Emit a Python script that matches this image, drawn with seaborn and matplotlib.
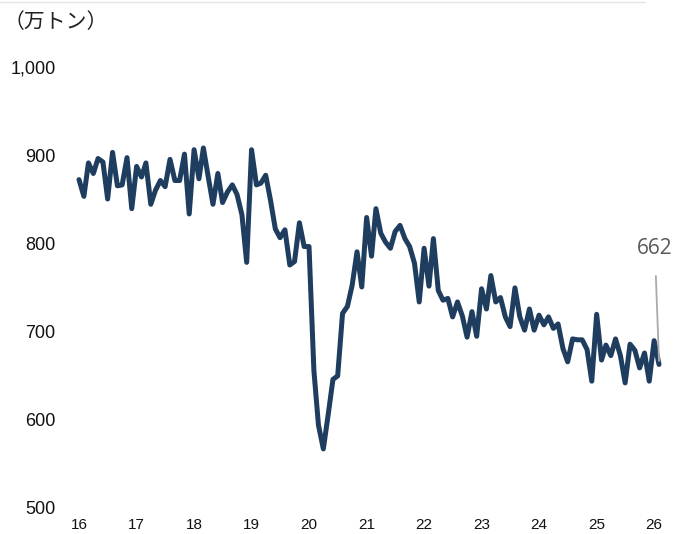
import pandas as pd
import matplotlib
matplotlib.use('Agg')
import matplotlib.pyplot as plt
from matplotlib.lines import Line2D
import seaborn as sns

# monthly values, Jan 2016 .. Feb 2026 (万トン)
start_month = "2016-01"
values = [
    872, 853, 891, 879, 896, 892, 850, 903, 865, 866, 897, 839,
    887, 875, 891, 844, 860, 871, 864, 895, 871, 871, 901, 833,
    906, 873, 908, 875, 844, 879, 846, 858, 866, 855, 832, 778,
    906, 866, 868, 877, 849, 816, 806, 815, 775, 779, 823, 796,
    796, 655, 593, 566, 604, 645, 649, 720, 728, 752, 790, 750,
    829, 785, 839, 811, 801, 794, 813, 820, 805, 796, 777, 733,
    794, 751, 805, 746, 735, 737, 716, 733, 717, 693, 722, 694,
    748, 725, 763, 733, 738, 716, 705, 749, 716, 701, 725, 701,
    718, 707, 716, 703, 708, 680, 665, 691, 690, 690, 679, 643,
    719, 667, 684, 672, 691, 672, 641, 685, 678, 658, 675, 643,
    689, 662,
]
year_labels = ["16", "17", "18", "19", "20", "21", "22", "23", "24", "25", "26"]
y_ticks = [500, 600, 700, 800, 900, 1000]
y_tick_labels = ["500", "600", "700", "800", "900", "1,000"]
unit_label = "（万トン）"

df = pd.DataFrame({
    "month": pd.date_range(start_month, periods=len(values), freq="MS"),
    "value": values,
})

sns.set_theme(style="white")
plt.rcParams['font.family'] = ['Liberation Sans', 'DejaVu Sans']

fig = plt.figure(figsize=(6.73, 5.34), dpi=100)
ax = fig.add_axes([79 / 673, 27 / 534, 580 / 673, 440 / 534])

sns.lineplot(data=df, x="month", y="value", ax=ax, color="#1e3d5f",
             linewidth=3.6, clip_on=False)

ax.set_xlim(df["month"].iloc[0], df["month"].iloc[-1])
ax.set_ylim(500, 1000)
ax.set_yticks(y_ticks)
ax.set_yticklabels(y_tick_labels)
ticks = pd.date_range("2016-01-01", periods=len(year_labels), freq="YS")
ax.set_xticks(ticks)
ax.set_xticklabels(year_labels)
ax.tick_params(axis="y", length=0, pad=17, labelsize=13, colors="#111111")
ax.tick_params(axis="x", length=0, pad=8, labelsize=11, colors="#111111")
ax.set_xlabel("")
ax.set_ylabel("")
for s in ax.spines.values():
    s.set_visible(False)
ax.grid(False)

# last value label with leader line
last_x = df["month"].iloc[-1]
last_v = values[-1]
ax.annotate(f"{last_v}", xy=(last_x, last_v + 4), xytext=(-3, 794),
            textcoords=("offset points", "data"),
            ha="center", va="center", fontsize=15, color="#595959",
            family=["Open Sans", "DejaVu Sans"], annotation_clip=False,
            arrowprops=dict(arrowstyle="-", color="#aaaaaa", lw=1.3,
                            shrinkA=10, shrinkB=0))

fig.text(4 / 673, 1 - 22 / 534, unit_label, ha="left", va="center",
         fontsize=15, color="#222222",
         family=["Noto Sans CJK JP", "DejaVu Sans"])

fig.add_artist(Line2D([0, 645 / 673], [1 - 2 / 534, 1 - 2 / 534],
                      color="#e4e4e4", lw=1))

fig.savefig("out.png", dpi=100)
